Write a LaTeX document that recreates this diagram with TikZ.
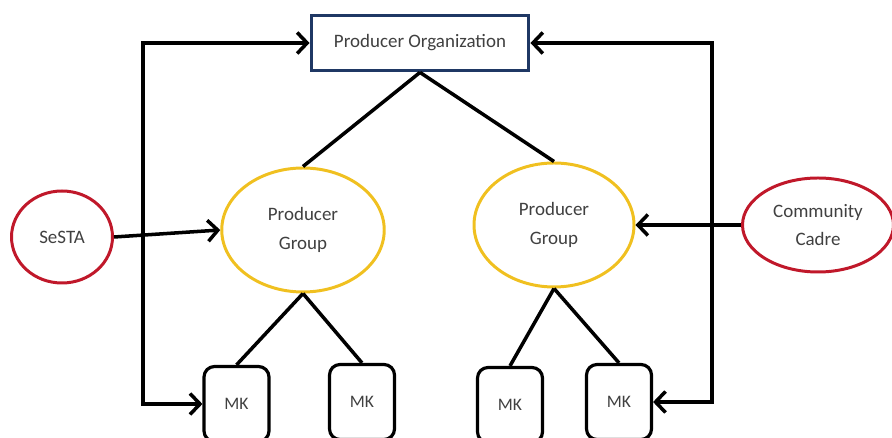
\documentclass[tikz,border=0pt]{standalone}
\usepackage{fontspec}
\setmainfont{Carlito}
\usetikzlibrary{arrows.meta, shapes.geometric}
\definecolor{navyline}{RGB}{31,56,100}
\definecolor{pgyellow}{RGB}{240,192,32}
\definecolor{actorred}{RGB}{192,24,42}
\definecolor{textgray}{RGB}{64,64,64}

\begin{document}
\begin{tikzpicture}[
        line width=2pt,
        every node/.style={text=textgray, font=\fontsize{10.8}{17}\selectfont, align=center},
        orgbox/.style={draw=navyline, line width=2.2pt, fill=white, minimum width=4.34cm, minimum height=1.1cm},
        groupell/.style={draw=pgyellow, ellipse, line width=1.7pt, minimum width=3.25cm, minimum height=2.48cm},
        actorell/.style={draw=actorred, ellipse, line width=1.7pt},
        mkbox/.style={draw, rounded corners=6pt, line width=1.8pt, minimum width=1.3cm, minimum height=1.5cm, font=\fontsize{10}{12}\selectfont},
        barb/.style={-{Straight Barb[length=2mm, width=4.2mm]}},
        bibarb/.style={{Straight Barb[length=2mm, width=4.2mm]}-{Straight Barb[length=2mm, width=4.2mm]}}
    ]
    \useasboundingbox (0, 0) rectangle (17.84, -8.76);
    \draw (8.4, -0.86) node[orgbox] (ProdOrg) {Producer Organization};
    \draw (6.06, -4.6) node[groupell] (ProdGroup1) {Producer\\Group};
    \draw (11.08, -4.5) node[groupell, minimum width=3.2cm] (ProdGroup2) {Producer\\Group};
    \draw (1.24, -4.74) node[actorell, minimum width=2.02cm, minimum height=1.84cm] (SeSTA) {SeSTA};
    \draw (16.36, -4.5) node[actorell, minimum width=3.02cm, minimum height=1.88cm,
        font=\fontsize{10.8}{16}\selectfont] (CommCadre) {Community\\Cadre};
    \draw (4.73, -8.08) node[mkbox] (MK1) {MK};
    \draw (7.24, -8.04) node[mkbox] (MK2) {MK};
    \draw (10.2, -8.1) node[mkbox] (MK3) {MK};
    \draw (12.38, -8.04) node[mkbox] (MK4) {MK};
    \coordinate (LeftBus) at (2.86, -4.5);
    \coordinate (RightBus) at (14.24, -4.5);
    % tree
    \draw (ProdOrg.south) -- (ProdGroup1.north);
    \draw (ProdOrg.south) -- (ProdGroup2.north);
    \draw (ProdGroup1.south) -- (MK1.north);
    \draw (ProdGroup1.south) -- (MK2.north);
    \draw (ProdGroup2.south) -- (MK3.north);
    \draw (ProdGroup2.south) -- (MK4.north);
    % support links
    \draw[barb] (SeSTA.east) -- (ProdGroup1.west);
    \draw[barb] (CommCadre.west) -- (ProdGroup2.east);
    \draw[bibarb] (ProdOrg.west) -| (LeftBus) |- (MK1.west);
    \draw[bibarb] (ProdOrg.east) -| (RightBus) |- (MK4.east);
\end{tikzpicture}
\end{document}
